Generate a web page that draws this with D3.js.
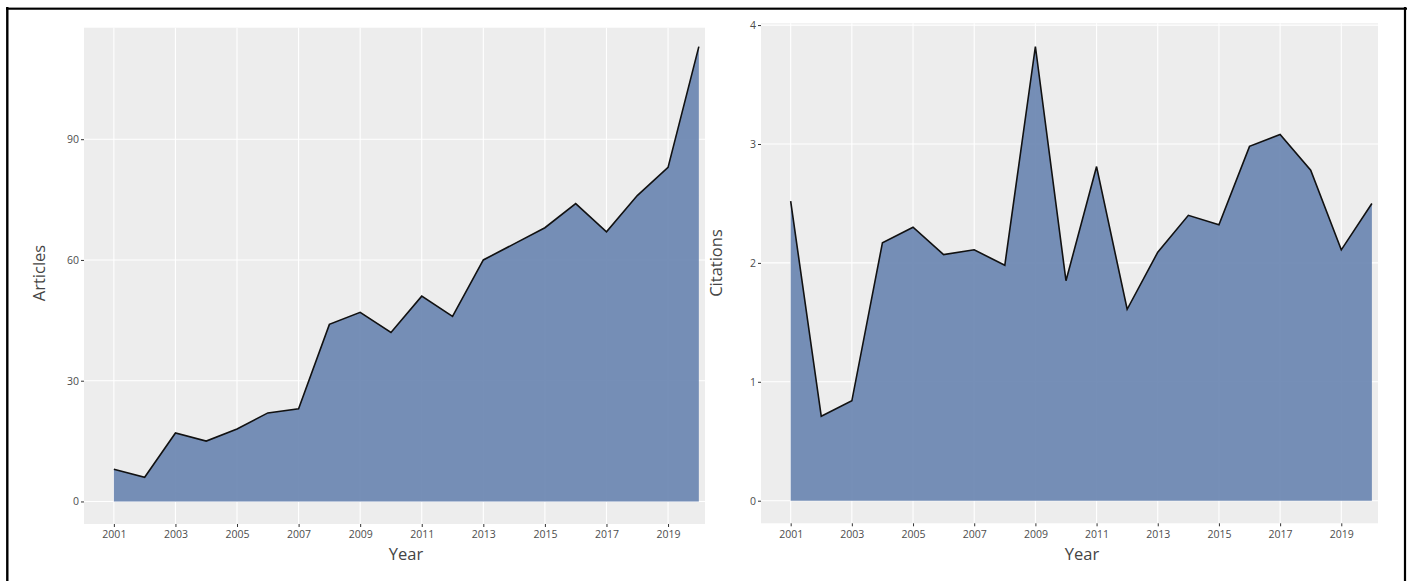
<!DOCTYPE html>
<html>
<head>
<meta charset="utf-8">
<script src="https://cdn.jsdelivr.net/npm/d3@7"></script>
<style>
  html, body { margin: 0; padding: 0; background: #fff; }
  svg { display: block; }
  text { font-family: "Open Sans", "DejaVu Sans", sans-serif; }
</style>
</head>
<body>
<svg id="chart" width="1413" height="581"></svg>
<script>
// ---- data ----
const years = [2001,2002,2003,2004,2005,2006,2007,2008,2009,2010,2011,2012,2013,2014,2015,2016,2017,2018,2019,2020];
const articles = [8,6,17,15,18,22,23,44,47,42,51,46,60,64,68,74,67,76,83,113];
const citations = [2.52,0.71,0.84,2.17,2.30,2.07,2.11,1.98,3.82,1.85,2.81,1.61,2.09,2.40,2.32,2.98,3.08,2.78,2.11,2.50];
const xTicks = [2001,2003,2005,2007,2009,2011,2013,2015,2017,2019];
const articleTicks = [0,30,60,90];
const citationTicks = [0,1,2,3,4];
const xDomain = [2000.03, 2020.2];
const articleDomain = [-5.6, 117.7];
const citationDomain = [-0.19, 4.015];

const svg = d3.select("#chart");

// outer frame
svg.append("line").attr("x1",6).attr("x2",1407).attr("y1",7.5).attr("y2",7.5).attr("stroke","#999").attr("stroke-width",1);
svg.append("line").attr("x1",6).attr("x2",1407).attr("y1",8.8).attr("y2",8.8).attr("stroke","#000").attr("stroke-width",1.8);
svg.append("line").attr("x1",7.3).attr("x2",7.3).attr("y1",7).attr("y2",581).attr("stroke","#000").attr("stroke-width",2.4);
svg.append("line").attr("x1",1405).attr("x2",1405).attr("y1",7).attr("y2",581).attr("stroke","#000").attr("stroke-width",2.2);

function panel(cfg) {
  const {left, right, top, bottom, values, yDomain, yTicks, yTitle, yTitleX, yTitleY, xTitleX} = cfg;
  const x = d3.scaleLinear().domain(xDomain).range([left, right]);
  const y = d3.scaleLinear().domain(yDomain).range([bottom, top]);
  const g = svg.append("g");

  g.append("rect").attr("x",left).attr("y",top).attr("width",right-left).attr("height",bottom-top).attr("fill","#ededed");

  // grid
  g.selectAll(".vg").data(xTicks).enter().append("line")
    .attr("x1",d=>x(d)).attr("x2",d=>x(d)).attr("y1",top).attr("y2",bottom)
    .attr("stroke","#fff").attr("stroke-width",1.1);
  g.selectAll(".hg").data(yTicks.filter(t=>y(t)>=top-0.5)).enter().append("line")
    .attr("x1",left).attr("x2",right).attr("y1",d=>y(d)).attr("y2",d=>y(d))
    .attr("stroke","#fff").attr("stroke-width",1.1);

  const data = years.map((yr,i)=>({yr, v: values[i]}));
  const area = d3.area().x(d=>x(d.yr)).y0(y(0)).y1(d=>y(d.v));
  g.append("path").datum(data).attr("d",area).attr("fill","rgb(108,134,178)").attr("fill-opacity",0.93);
  const line = d3.line().x(d=>x(d.yr)).y(d=>y(d.v));
  g.append("path").datum(data).attr("d",line).attr("fill","none").attr("stroke","#111").attr("stroke-width",1.6).attr("stroke-linejoin","miter");

  // x axis
  const xa = g.append("g").attr("transform",`translate(0,${bottom})`)
    .call(d3.axisBottom(x).tickValues(xTicks).tickFormat(d3.format("d")).tickSize(3).tickPadding(4));
  xa.select(".domain").remove();
  xa.selectAll(".tick line").attr("stroke","#333").attr("stroke-width",1);
  xa.selectAll(".tick text").attr("fill","#4d4d4d").style("font-size","10.5px");

  // y axis
  const ya = g.append("g").attr("transform",`translate(${left},0)`)
    .call(d3.axisLeft(y).tickValues(yTicks).tickFormat(d3.format("d")).tickSize(3).tickPadding(2));
  ya.select(".domain").remove();
  ya.selectAll(".tick line").attr("stroke","#333").attr("stroke-width",1);
  ya.selectAll(".tick text").attr("fill","#4d4d4d").style("font-size","10.5px");

  // titles
  g.append("text").attr("x",xTitleX).attr("y",560).attr("text-anchor","middle")
    .attr("fill","#444").style("font-size","16.5px").text("Year");
  g.append("text").attr("transform",`translate(${yTitleX},${yTitleY}) rotate(-90)`).attr("text-anchor","middle")
    .attr("dy","0.35em").attr("fill","#444").style("font-size","16.5px").text(yTitle);
}

panel({left:84, right:705, top:27.7, bottom:524, values:articles, yDomain:articleDomain, yTicks:articleTicks,
       yTitle:"Articles", yTitleX:39, yTitleY:273, xTitleX:406});
panel({left:761, right:1378, top:23.3, bottom:523.3, values:citations, yDomain:citationDomain, yTicks:citationTicks,
       yTitle:"Citations", yTitleX:716, yTitleY:263, xTitleX:1082});
</script>
</body>
</html>
